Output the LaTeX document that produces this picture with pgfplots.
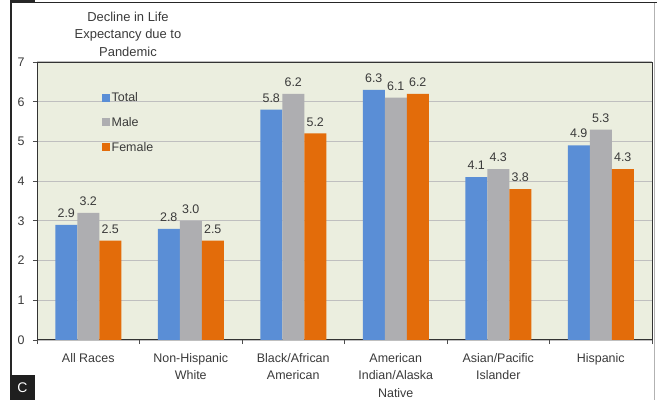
\documentclass[border=0pt]{standalone}
\usepackage{fontspec}
\setmainfont{Liberation Sans}
\usepackage{pgfplots}
\pgfplotsset{compat=1.18}
\definecolor{cblue}{HTML}{5A8ED6}
\definecolor{cgray}{HTML}{AEAEB1}
\definecolor{corange}{HTML}{E36C0A}
\definecolor{bgc}{HTML}{EBEEDF}
\definecolor{txt}{HTML}{3A3A3A}
\begin{document}
\fontsize{12.5}{14}\selectfont
\begin{tikzpicture}
\path[use as bounding box] (0bp,0bp) rectangle (657bp,400bp);
\draw[line width=1.2bp, black!85] (11bp,25bp) -- (11bp,400bp);
\fill[black!85] (10bp,397bp) rectangle (35bp,400bp);
\draw[line width=1.5bp, black!85] (35bp,397.5bp) -- (657bp,397.5bp);
\draw[line width=1bp, black!30] (654.5bp,0bp)--(654.5bp,397bp);
\fill[black!88] (10bp,0bp) rectangle (35bp,25bp);
\node[white, font=\fontsize{14}{14}\selectfont] at (22.5bp,12bp) {C};
\node[align=center, font=\fontsize{13}{17.5}\selectfont, text=txt] at (128bp,366bp) {Decline in Life\\Expectancy due to\\Pandemic};
\begin{axis}[at={(37bp,60bp)}, anchor=south west, scale only axis,
  width=615bp, height=278bp,
  ybar=0pt, bar width=22bp,
  xmin=-0.5, xmax=5.5, ymin=0, ymax=7,
  xtick={0,...,5},
  xticklabels={All Races, {Non-Hispanic\\White}, {Black/African\\American}, {American\\Indian/Alaska\\Native}, {Asian/Pacific\\Islander}, Hispanic},
  xticklabel style={align=center, text=txt, font=\fontsize{12.5}{17.5}\selectfont, yshift=-5bp},
  yticklabel style={text=txt, font=\fontsize{12.5}{14}\selectfont, xshift=-4bp},
  /pgf/number format/assume math mode=true,
  major x tick style={draw=none},
  minor xtick={-0.5,0.5,...,5.5},
  xtick pos=bottom, ytick pos=left,
  ytick={0,...,7},
  ymajorgrids, grid style={line width=1.2bp, color=black!25},
  tick align=outside, major tick length=4bp, minor tick length=4bp,
  tick style={black!70, line width=0.8bp},
  axis background/.style={fill=bgc},
  axis line style={black!80, line width=1bp},
  nodes near coords={\pgfmathprintnumber[fixed,fixed zerofill,precision=1]{\pgfplotspointmeta}},
  every node near coord/.append style={text=txt, font=\fontsize{12.5}{13}\selectfont, yshift=3bp},
  legend style={at={(0.1,0.905)}, anchor=north west, draw=none, fill=none, font=\fontsize{12.5}{14}\selectfont, row sep=10bp, text=txt},
  legend cell align=left,
  legend image code/.code={\path[#1,draw=none] (0bp,-3.5bp) rectangle (8bp,4.5bp);},
]
\addplot[fill=cblue, draw=none] coordinates {(0,2.9) (1,2.8) (2,5.8) (3,6.3) (4,4.1) (5,4.9)};
\addplot[fill=cgray, draw=none] coordinates {(0,3.2) (1,3.0) (2,6.2) (3,6.1) (4,4.3) (5,5.3)};
\addplot[fill=corange, draw=none] coordinates {(0,2.5) (1,2.5) (2,5.2) (3,6.2) (4,3.8) (5,4.3)};
\legend{Total, Male, Female}
\end{axis}
\end{tikzpicture}
\end{document}
